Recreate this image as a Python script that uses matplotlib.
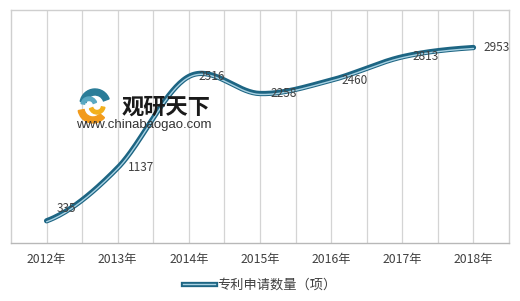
import numpy as np
import matplotlib.pyplot as plt
from matplotlib.patches import Wedge
from matplotlib.lines import Line2D
from matplotlib.legend_handler import HandlerTuple

plt.rcParams['font.family'] = ['Noto Sans CJK SC', 'DejaVu Sans']

years = ['2012年', '2013年', '2014年', '2015年', '2016年', '2017年', '2018年']
patents = [335, 1137, 2516, 2258, 2460, 2813, 2953]
series_name = '专利申请数量（项）'


def smooth_curve(xs, ys, n=40, tension=0.5):
    # Catmull-Rom style smoothing, similar to spreadsheet "smooth line"
    xs = np.asarray(xs, float)
    ys = np.asarray(ys, float)
    px = np.concatenate([[2 * xs[0] - xs[1]], xs, [2 * xs[-1] - xs[-2]]])
    py = np.concatenate([[ys[0]], ys, [ys[-1]]])
    out_x, out_y = [], []
    for i in range(1, len(px) - 2):
        p0, p1, p2, p3 = (np.array([px[j], py[j]]) for j in (i - 1, i, i + 1, i + 2))
        c1 = p1 + (p2 - p0) * tension / 3
        c2 = p2 - (p3 - p1) * tension / 3
        t = np.linspace(0, 1, n)[:, None]
        b = (1 - t) ** 3 * p1 + 3 * (1 - t) ** 2 * t * c1 + 3 * (1 - t) * t ** 2 * c2 + t ** 3 * p2
        out_x.extend(b[:, 0])
        out_y.extend(b[:, 1])
    return np.array(out_x), np.array(out_y)


fig = plt.figure(figsize=(5.2, 3.01), dpi=100)
ax = fig.add_axes([0.0212, 0.1927, 0.9577, 0.7741])

x = np.arange(len(years))
sx, sy = smooth_curve(x, patents)
ax.plot(sx, sy, color='#1d6583', lw=3.8, solid_capstyle='round', zorder=3)
ax.plot(sx, sy - 14, color='#a9d2e3', lw=1.0, solid_capstyle='round', zorder=4)

for i, (xi, v) in enumerate(zip(x, patents)):
    dy = 180 if i == 0 else 0
    ax.text(xi + 0.14, v + dy, str(v), fontsize=8.5, color='#404040',
            ha='left', va='center', zorder=5)

ax.set_xlim(-0.5, len(years) - 0.5)
ax.set_ylim(0, 3520)
ax.set_xticks(x)
ax.set_xticklabels(years, fontsize=8.8, color='#404040')
ax.set_yticks([])
ax.tick_params(axis='x', length=0, pad=7)
for xg in np.arange(0, len(years) - 0.5, 0.5):
    ax.axvline(xg, color='#d4d4d4', lw=0.9, zorder=1)
for s in ax.spines.values():
    s.set_color('#cfcfcf')
    s.set_linewidth(1.0)
ax.spines['bottom'].set_color('#b8b8b8')

# watermark logo + text
tr = fig.dpi_scale_trans
fig.patches.append(Wedge((0.93, 1.93), 0.15, 190, 320, width=0.06,
                         transform=tr, color='#f29b1d'))
fig.patches.append(Wedge((0.95, 1.97), 0.15, 20, 170, width=0.06,
                         transform=tr, color='#2a7c98'))
fig.patches.append(Wedge((0.97, 1.95), 0.08, 200, 350, width=0.035,
                         transform=tr, color='#f2b01d'))
fig.patches.append(Wedge((0.89, 1.96), 0.08, 20, 170, width=0.035,
                         transform=tr, color='#5aa8c2'))
fig.text(0.233, 0.645, '观研天下', fontsize=16, fontweight='bold', color='#1a1a1a',
         ha='left', va='center')
fig.text(0.147, 0.585, 'www.chinabaogao.com', fontsize=9.5, color='#333333',
         ha='left', va='center', family=['Liberation Sans'])

h_dark = Line2D([], [], color='#1d6583', lw=3.8)
h_light = Line2D([], [], color='#a9d2e3', lw=1.0)
fig.legend([(h_dark, h_light)], [series_name], loc='center',
           bbox_to_anchor=(0.5, 0.053), frameon=False, fontsize=9.5,
           handlelength=2.4, handletextpad=0.2, labelcolor='#404040',
           handler_map={tuple: HandlerTuple(ndivide=1, pad=0)})

fig.savefig('out.png', dpi=100)
